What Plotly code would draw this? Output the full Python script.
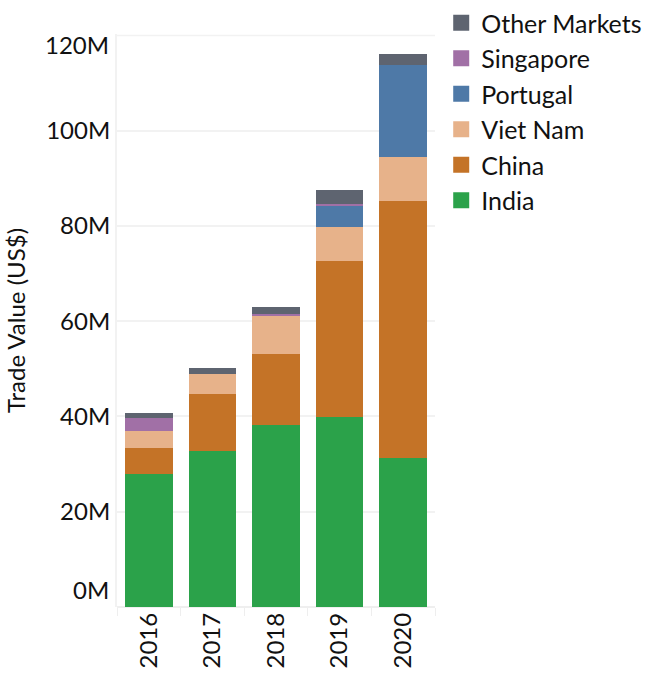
import plotly.graph_objects as go

years = ["2016", "2017", "2018", "2019", "2020"]

# Trade value by partner market, in millions of US$
india = [27.9, 32.7, 38.2, 39.9, 31.3]
china = [5.5, 12.0, 14.9, 32.7, 53.9]
viet_nam = [3.5, 4.2, 8.0, 7.1, 9.2]
portugal = [0.0, 0.0, 0.0, 4.6, 19.3]
singapore = [2.8, 0.0, 0.4, 0.4, 0.0]
other_markets = [1.0, 1.3, 1.5, 2.8, 2.4]

y_ticks = [0, 20, 40, 60, 80, 100, 120]
y_tick_text = ["0M", "20M", "40M", "60M", "80M", "100M", "120M"]

series = [
    ("India", india, "#2ba24a"),
    ("China", china, "#c47327"),
    ("Viet Nam", viet_nam, "#e7b28a"),
    ("Portugal", portugal, "#4e79a7"),
    ("Singapore", singapore, "#a170a6"),
    ("Other Markets", other_markets, "#5e6470"),
]

FONT = "Lato"
SIZE = 24
TEXT = "#111111"

fig = go.Figure()
n = len(series)
for i, (name, vals, color) in enumerate(series):
    fig.add_trace(go.Bar(
        x=years,
        y=[v * 1e6 for v in vals],
        name=name,
        showlegend=False,
        marker=dict(color=color, line=dict(width=0)),
    ))
    # square legend key, listed with the top segment first
    fig.add_trace(go.Scatter(
        x=[None], y=[None],
        mode="markers",
        name=name,
        legendrank=n - i,
        marker=dict(symbol="square", size=16, color=color),
    ))

# inner tick labels of the value axis sit inside the plot span
inner_vals = [v * 1e6 for v in y_ticks[1:-1]]
inner_text = y_tick_text[1:-1]

fig.update_layout(
    width=646,
    height=675,
    barmode="stack",
    bargap=0.25,
    plot_bgcolor="white",
    paper_bgcolor="white",
    margin=dict(l=117, r=211, t=34, b=68, autoexpand=False),
    font=dict(family=FONT, size=SIZE, color=TEXT),
    legend=dict(
        xref="container", yref="container",
        x=0.683, y=1.004, xanchor="left", yanchor="top",
        traceorder="normal",
        itemsizing="trace",
        font=dict(family=FONT, size=25, color=TEXT),
        itemclick=False,
    ),
    xaxis=dict(
        type="category",
        automargin=False,
        tickangle=-90,
        showgrid=False,
        ticks="outside",
        ticklen=8,
        tickcolor="#eeeeee",
        tickson="boundaries",
        showline=False,
        tickfont=dict(family=FONT, size=SIZE, color=TEXT),
    ),
    yaxis=dict(
        automargin=False,
        range=[0, 120.3e6],
        tickvals=inner_vals,
        ticktext=inner_text,
        showgrid=True,
        gridcolor="#f2f2f2",
        gridwidth=1.5,
        zeroline=True,
        zerolinecolor="#efefef",
        showline=True,
        linecolor="#f2f2f2",
        linewidth=2,
        tickfont=dict(family=FONT, size=SIZE, color=TEXT),
        title=dict(text="Trade Value (US$)", font=dict(family=FONT, size=SIZE, color=TEXT), standoff=14),
    ),
)

# top gridline at the axis maximum
fig.add_hline(y=y_ticks[-1] * 1e6, line=dict(color="#f2f2f2", width=1.5), layer="below")

# end labels of the value axis, nudged to stay inside the axis span
fig.add_annotation(x=0, xref="paper", y=y_ticks[-1] * 1e6, yref="y",
                   text=y_tick_text[-1], showarrow=False,
                   xanchor="right", yanchor="top", xshift=-6, yshift=7,
                   font=dict(family=FONT, size=SIZE, color=TEXT))
fig.add_annotation(x=0, xref="paper", y=y_ticks[0], yref="y",
                   text=y_tick_text[0], showarrow=False,
                   xanchor="right", yanchor="bottom", xshift=-6, yshift=1,
                   font=dict(family=FONT, size=SIZE, color=TEXT))

fig.write_html("out.html")
